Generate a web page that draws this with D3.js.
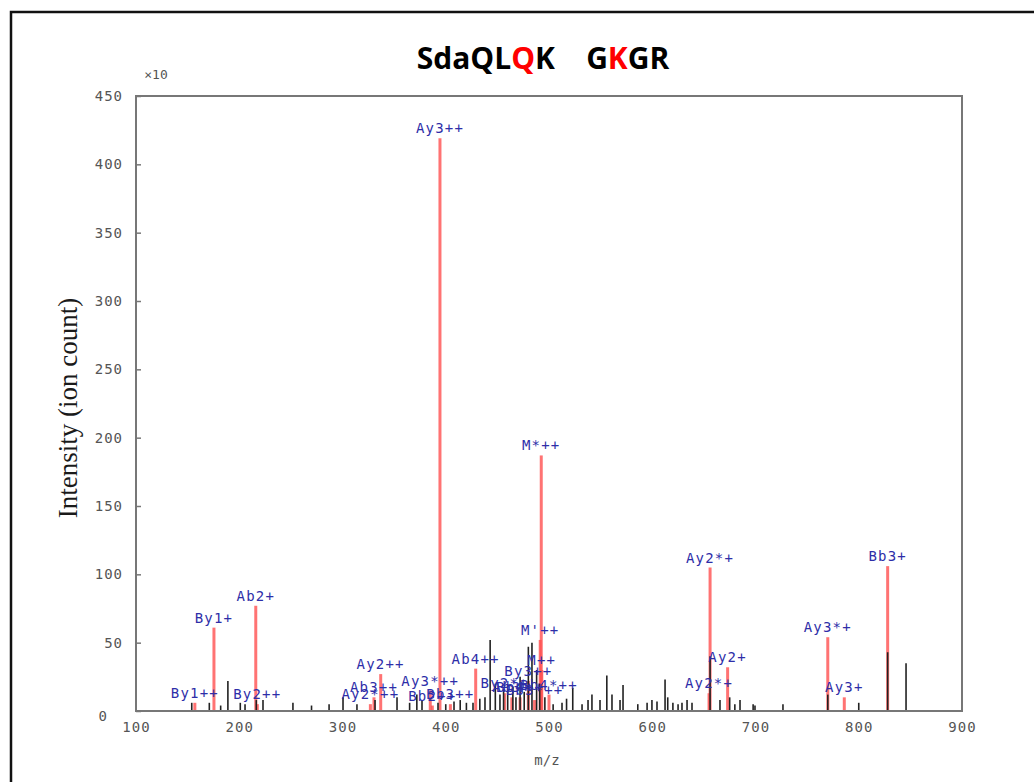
<!DOCTYPE html>
<html>
  <head>
    <meta charset="utf-8">
    <title>SdaQLQK GKGR spectrum</title>
    <style media="screen">
      body { margin: 0; background: #fff; }
      .axis text {
        font-family: "DejaVu Sans Mono", monospace;
        font-size: 14px;
        fill: #555;
        letter-spacing: 1px;
      }
      .axis line { stroke: #777; stroke-width: 1.5; }
      .axis path { display: none; }
      .ion text {
        font-family: "DejaVu Sans Mono", monospace;
        font-size: 14px;
        fill: #2e2ea8;
        letter-spacing: 1.2px;
      }
      .peak { stroke: #222; stroke-width: 1.6; }
      .matched { stroke: #ff5050; stroke-opacity: 0.8; stroke-width: 3; }
    </style>
    <script src="https://d3js.org/d3.v7.min.js"></script>
  </head>
  <body>
    <script type="text/javascript">

      // y values are in units of x10 ion counts
      const xTicks = [100, 200, 300, 400, 500, 600, 700, 800, 900];
      const yTicks = [0, 50, 100, 150, 200, 250, 300, 350, 400, 450];

      // matched (annotated) fragment peaks
      const ionMz = [157, 175.5, 216, 217.5, 327, 330.5, 337, 385, 387, 394.4, 404.5,
        429, 457, 464, 472, 480, 486, 491.5, 492.5, 493, 500,
        656, 655, 673, 770, 786, 828];
      const ionIntensity = [6, 61, 77, 5, 5, 10, 27, 15, 4, 419, 5,
        31, 13, 10, 10, 22, 8, 52, 187, 30, 12,
        105, 13, 32, 54, 10, 106];
      const ionLabels = ["By1++", "By1+", "Ab2+", "By2++", "Ay2*++", "Ab3++", "Ay2++", "Ay3*++", "Bb2++", "Ay3++", "Bb3++",
        "Ab4++", "By2*+", "Ab3+", "Bb4++", "By3++", "Bb3*++", "M'++", "M*++", "M++", "Bb4*++",
        "Ay2*+", "Ay2*+", "Ay2+", "Ay3*+", "Ay3+", "Bb3+"];

      // unannotated peaks
      const peakMz = [154, 171, 182, 189, 201, 205.6, 216.5, 223, 252, 270, 287, 300.5, 314,
        331.5, 352.8, 365, 372, 377, 392.5, 400, 408, 414, 420, 426.4, 433, 438, 443, 448,
        452.5, 456, 460, 465, 468, 472, 476, 480, 483.5, 488, 491, 496, 504, 512.6, 517,
        523, 532, 537.8, 541.6, 549.4, 556, 561, 568.8, 571.7, 586, 595, 599.7, 604.6,
        612.4, 615, 620, 625, 628.8, 633.7, 638.5, 656, 665.6, 675, 680, 685, 697.7,
        699.5, 726.6, 770, 800, 828, 845.8];
      const peakIntensity = [6, 6, 4, 22, 6, 5, 8, 8, 6, 4, 5, 10, 5,
        8, 10, 6, 12, 8, 6, 5, 7, 8, 6, 6, 9, 10, 52, 20,
        12, 16, 15, 18, 10, 25, 14, 47, 50, 30, 20, 10, 5, 6, 9,
        17, 5, 8, 12, 8, 26, 12, 8, 19, 5, 6, 8, 7,
        23, 10, 6, 5, 6, 8, 6, 40, 8, 10, 5, 8, 5,
        4, 5, 12, 6, 43, 35];

      const x = d3.scaleLinear().domain([100, 900]).range([136, 962]);
      const y = d3.scaleLinear().domain([0, 450]).range([711, 96]);

      const svg = d3.select('body')
        .append('svg')
          .attr('width', 1034)
          .attr('height', 782);

      // outer frame
      svg.append('rect')
        .attr('x', 11).attr('y', 12)
        .attr('width', 1040).attr('height', 790)
        .attr('fill', 'none')
        .attr('stroke', '#111')
        .attr('stroke-width', 2.5);

      // title
      const title = svg.append('text')
        .attr('x', 543).attr('y', 69)
        .attr('text-anchor', 'middle')
        .style('font-family', '"Open Sans", sans-serif')
        .style('font-weight', 'bold')
        .style('font-size', '30px')
        .style('white-space', 'pre');
      [["SdaQL", "#000"], ["Q", "#f00"], ["K    G", "#000"], ["K", "#f00"], ["GR", "#000"]]
        .forEach(p => title.append('tspan').text(p[0]).attr('fill', p[1]));

      // matched peaks (drawn first, black peaks sit on top)
      svg.append('g').selectAll('line')
        .data(ionMz)
        .join('line')
          .attr('class', 'matched')
          .attr('x1', d => x(d)).attr('x2', d => x(d))
          .attr('y1', y(0))
          .attr('y2', (d, i) => y(ionIntensity[i]));

      svg.append('g').selectAll('line')
        .data(peakMz)
        .join('line')
          .attr('class', 'peak')
          .attr('x1', d => x(d)).attr('x2', d => x(d))
          .attr('y1', y(0))
          .attr('y2', (d, i) => y(peakIntensity[i]));

      // plot frame
      svg.append('rect')
        .attr('x', 136).attr('y', 96)
        .attr('width', 826).attr('height', 615)
        .attr('fill', 'none')
        .attr('stroke', '#777')
        .attr('stroke-width', 2);

      svg.append('g')
        .attr('class', 'axis')
        .attr('transform', 'translate(136,0)')
        .call(d3.axisLeft(y).tickValues(yTicks).tickSize(-5).tickPadding(13))
        .selectAll('text')
          .filter(d => d === 0)
          .attr('transform', 'translate(-15,5)');

      svg.append('g')
        .attr('class', 'axis')
        .attr('transform', 'translate(0,711)')
        .call(d3.axisBottom(x).tickValues(xTicks).tickSize(0).tickPadding(11));

      svg.append('text')
        .attr('x', 156).attr('y', 79)
        .attr('text-anchor', 'middle')
        .style('font-family', '"DejaVu Sans Mono", monospace')
        .style('font-size', '13px')
        .attr('fill', '#555')
        .text('×10');

      svg.append('text')
        .attr('x', 547).attr('y', 765)
        .attr('text-anchor', 'middle')
        .style('font-family', '"DejaVu Sans Mono", monospace')
        .style('font-size', '14px')
        .attr('fill', '#555')
        .text('m/z');

      svg.append('text')
        .attr('transform', 'translate(77,408) rotate(-90)')
        .attr('text-anchor', 'middle')
        .style('font-family', '"Liberation Serif", serif')
        .style('font-size', '27px')
        .attr('fill', '#1a1a1a')
        .text('Intensity (ion count)');

      // ion labels
      svg.append('g')
        .attr('class', 'ion')
        .selectAll('text')
        .data(ionLabels)
        .join('text')
          .attr('text-anchor', 'middle')
          .attr('x', (d, i) => x(ionMz[i]))
          .attr('y', (d, i) => y(ionIntensity[i]) - 5)
          .text(d => d);
    </script>
  </body>
</html>
